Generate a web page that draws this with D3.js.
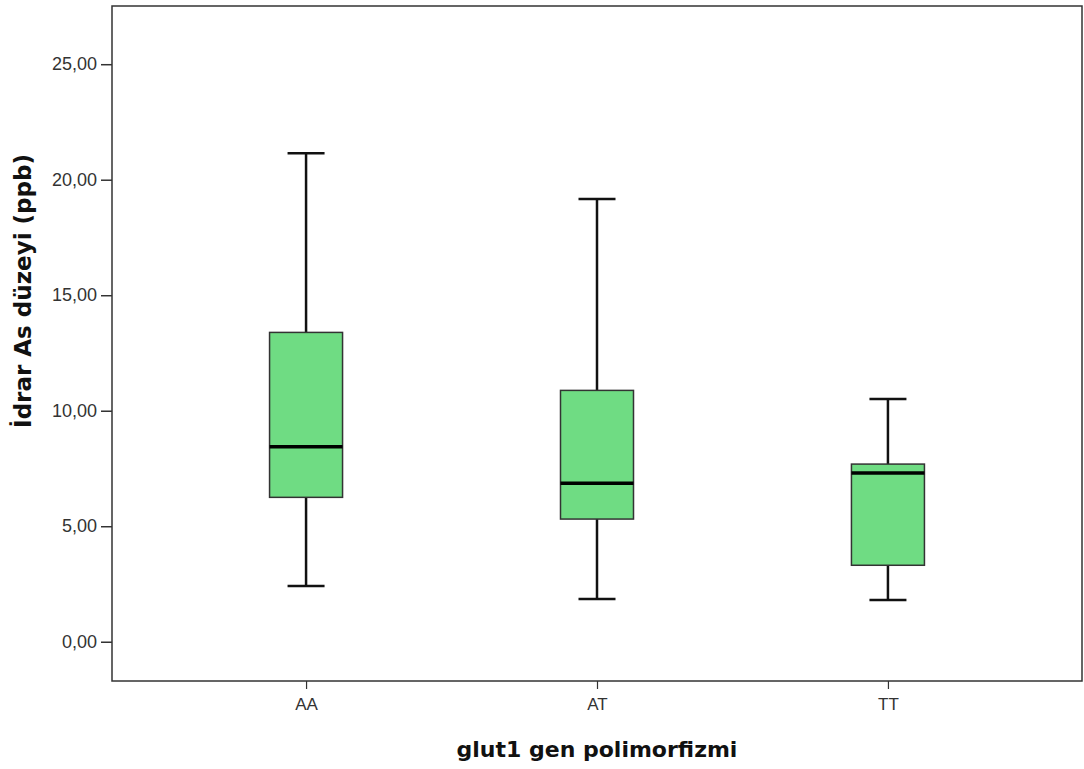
<!DOCTYPE html>
<html>
<head>
<meta charset="utf-8">
<script src="https://cdn.jsdelivr.net/npm/d3@7"></script>
<style>
  body { margin: 0; background: #fff; }
  text { font-family: "Liberation Sans", Arial, sans-serif; }
</style>
</head>
<body>
<div id="chart"></div>
<script>
// glut1 genotype groups and urine As level summaries (ppb)
var categories = ['AA', 'AT', 'TT'];
var whiskerLow  = [2.41, 1.85, 1.81];
var q1Values    = [6.25, 5.31, 3.31];
var medians     = [8.44, 6.86, 7.30];
var q3Values    = [13.39, 10.88, 7.69];
var whiskerHigh = [21.15, 19.16, 10.51];
var yTicks = [0, 5, 10, 15, 20, 25];

var W = 1084, H = 769;
var plotL = 112, plotR = 1082, plotT = 6, plotB = 681;

var svg = d3.select('#chart').append('svg')
  .attr('width', W).attr('height', H);

var x = d3.scalePoint().domain(categories).range([plotL, plotR]).padding(0.667);
var y = d3.scaleLinear().domain([-1.70, 27.52]).range([plotB, plotT]);

var boxes = categories.map(function (c, i) {
  return { cat: c, lo: whiskerLow[i], q1: q1Values[i], med: medians[i], q3: q3Values[i], hi: whiskerHigh[i] };
});

var boxW = 73, capW = 37;

// frame
svg.append('rect')
  .attr('x', plotL).attr('y', plotT)
  .attr('width', plotR - plotL).attr('height', plotB - plotT)
  .attr('fill', 'none').attr('stroke', '#333').attr('stroke-width', 1.5);

// axes
var yAxis = d3.axisLeft(y).tickValues(yTicks).tickSize(11).tickPadding(4)
  .tickFormat(function (d) { return d3.format('.2f')(d).replace('.', ','); });
var gy = svg.append('g').attr('transform', 'translate(' + plotL + ',0)').call(yAxis);
gy.select('.domain').remove();
gy.selectAll('.tick line').attr('stroke', '#333').attr('stroke-width', 1.5);
gy.selectAll('.tick text').attr('fill', '#333').style('font-size', '18px');

var xAxis = d3.axisBottom(x).tickSize(8).tickPadding(9);
var gx = svg.append('g').attr('transform', 'translate(0,' + plotB + ')').call(xAxis);
gx.select('.domain').remove();
gx.selectAll('.tick line').attr('stroke', '#333').attr('stroke-width', 1.2);
gx.selectAll('.tick text').attr('fill', '#333').style('font-size', '17px');

// boxplots
var g = svg.selectAll('.box').data(boxes).enter().append('g').attr('class', 'box');

g.append('line')
  .attr('x1', function (d) { return x(d.cat); }).attr('x2', function (d) { return x(d.cat); })
  .attr('y1', function (d) { return y(d.hi); }).attr('y2', function (d) { return y(d.q3); })
  .attr('stroke', '#111').attr('stroke-width', 2.5);
g.append('line')
  .attr('x1', function (d) { return x(d.cat); }).attr('x2', function (d) { return x(d.cat); })
  .attr('y1', function (d) { return y(d.q1); }).attr('y2', function (d) { return y(d.lo); })
  .attr('stroke', '#111').attr('stroke-width', 2.5);
g.append('line')
  .attr('x1', function (d) { return x(d.cat) - capW / 2; }).attr('x2', function (d) { return x(d.cat) + capW / 2; })
  .attr('y1', function (d) { return y(d.hi); }).attr('y2', function (d) { return y(d.hi); })
  .attr('stroke', '#111').attr('stroke-width', 2.5);
g.append('line')
  .attr('x1', function (d) { return x(d.cat) - capW / 2; }).attr('x2', function (d) { return x(d.cat) + capW / 2; })
  .attr('y1', function (d) { return y(d.lo); }).attr('y2', function (d) { return y(d.lo); })
  .attr('stroke', '#111').attr('stroke-width', 2.5);

g.append('rect')
  .attr('x', function (d) { return x(d.cat) - boxW / 2; })
  .attr('y', function (d) { return y(d.q3); })
  .attr('width', boxW)
  .attr('height', function (d) { return y(d.q1) - y(d.q3); })
  .attr('fill', '#6fdc83').attr('stroke', '#333').attr('stroke-width', 1.5);

g.append('line')
  .attr('x1', function (d) { return x(d.cat) - boxW / 2; }).attr('x2', function (d) { return x(d.cat) + boxW / 2; })
  .attr('y1', function (d) { return y(d.med); }).attr('y2', function (d) { return y(d.med); })
  .attr('stroke', '#000').attr('stroke-width', 3.5);

// axis titles
svg.append('text')
  .attr('x', 597).attr('y', 757)
  .attr('text-anchor', 'middle')
  .style('font-family', '"DejaVu Sans", sans-serif')
  .style('font-size', '22px').style('font-weight', 'bold').attr('fill', '#111')
  .text('glut1 gen polimorfizmi');

svg.append('text')
  .attr('transform', 'translate(31,291) rotate(-90)')
  .attr('text-anchor', 'middle')
  .style('font-family', '"DejaVu Sans", sans-serif')
  .style('font-size', '23px').style('font-weight', 'bold').attr('fill', '#111')
  .text('İdrar As düzeyi (ppb)');
</script>
</body>
</html>
